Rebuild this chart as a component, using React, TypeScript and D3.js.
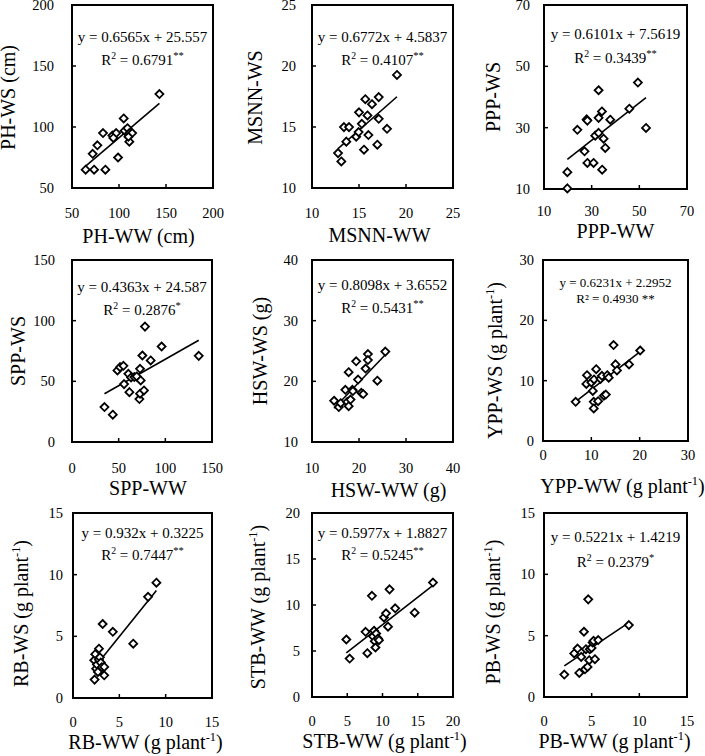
import React from "react";
import * as d3 from "d3";

const FONT = "'Liberation Serif', 'Times New Roman', Times, serif";

// ---------- data ----------
const phWW = [64.5, 73.5, 85.5, 72, 77, 83, 93, 97, 94, 99, 105, 106, 109, 111, 111, 114, 110, 143];
const phWS = [65, 65, 65, 78, 85, 95, 93, 95, 91, 75, 107, 97, 99, 95, 88, 95, 92, 127];

const msnnWW = [12.77, 13.12, 13.4, 13.94, 13.65, 14.7, 14.96, 15.0, 15.3, 15.53, 15.67, 15.9, 16.0, 16.38, 16.95, 17.1, 17.1, 17.98, 19.04];
const msnnWS = [12.86, 12.18, 14.99, 14.99, 13.8, 14.2, 14.58, 16.2, 15.26, 13.14, 17.28, 15.95, 14.34, 16.87, 13.55, 17.45, 15.67, 14.85, 19.27];

const pppWW = [19.8, 19.8, 24.0, 27.0, 27.9, 28.2, 28.2, 30.8, 31.5, 32.9, 32.9, 32.9, 34.3, 34.4, 35.0, 35.7, 37.8, 45.8, 49.4, 52.8];
const pppWS = [15.5, 10.2, 29.3, 22.3, 32.7, 32.3, 18.5, 18.5, 27.4, 42.2, 33.2, 28.3, 35.3, 16.3, 26.4, 23.4, 32.6, 36.2, 44.7, 29.9];

const sppWW = [34.8, 43.7, 48.7, 51.5, 55.1, 55.8, 60.4, 61.5, 63.3, 66.8, 69.3, 72.2, 72.9, 72.9, 73.6, 75.4, 77.1, 78.2, 84.3, 96, 135.8];
const sppWS = [28.8, 22.5, 59, 61.7, 62.8, 47.7, 56.2, 41.1, 53.2, 53.5, 54, 35.4, 39.8, 60.3, 50.7, 71.3, 42.5, 95.1, 67.2, 78.7, 71];

const hswWW = [14.7, 15.7, 16.1, 17.1, 17.5, 17.8, 17.8, 18.2, 18.6, 18.7, 19.4, 19.8, 20.5, 20.9, 21.4, 21.9, 21.9, 23.9, 25.6];
const hswWS = [16.8, 15.76, 16.4, 18.6, 16.6, 15.9, 21.5, 17.0, 18.6, 18.4, 23.3, 20.3, 18.1, 17.9, 22.1, 24.5, 23.5, 20.1, 24.9];

const yppWW = [6.76, 8.97, 9.1, 10.0, 10.3, 10.5, 10.5, 10.55, 11.0, 11.4, 11.9, 12.2, 12.6, 13.0, 13.3, 13.6, 14.6, 15.0, 15.3, 17.8, 20.1];
const yppWS = [6.5, 9.45, 10.9, 9.7, 8.3, 6.5, 5.4, 10.2, 11.9, 6.6, 10.3, 10.8, 7.5, 7.7, 10.9, 10.5, 15.9, 12.7, 11.7, 12.7, 15.0];

const rbWW = [2.33, 2.29, 2.4, 2.5, 2.58, 2.69, 2.8, 2.8, 2.9, 3.0, 3.1, 3.2, 3.37, 3.37, 4.3, 6.5, 8.1, 9.0];
const rbWS = [1.49, 3.06, 3.55, 2.38, 2.71, 2.11, 4.0, 3.1, 3.3, 2.87, 2.5, 6.0, 1.84, 2.52, 5.37, 4.4, 8.2, 9.35];

const stbWW = [4.87, 5.34, 7.6, 7.85, 8.5, 8.65, 8.8, 8.9, 9.0, 9.1, 9.36, 9.5, 10.2, 10.5, 10.78, 11.0, 11.8, 14.56, 17.16];
const stbWS = [6.25, 4.18, 7.09, 4.76, 11.0, 6.6, 7.2, 6.07, 5.38, 6.9, 6.36, 6.18, 8.65, 9.1, 7.64, 11.7, 9.64, 9.16, 12.44];

const pbWW = [2.13, 3.17, 3.52, 3.7, 3.9, 4.19, 4.3, 4.4, 4.57, 4.64, 4.74, 4.8, 4.99, 5.1, 5.34, 5.2, 5.69, 8.9];
const pbWS = [1.83, 3.55, 3.95, 1.96, 3.27, 5.32, 2.26, 3.9, 2.45, 7.96, 3.0, 3.9, 4.0, 4.45, 3.08, 4.58, 4.64, 5.86];

const xValues = [phWW, msnnWW, pppWW, sppWW, hswWW, yppWW, rbWW, stbWW, pbWW];
const yValues = [phWS, msnnWS, pppWS, sppWS, hswWS, yppWS, rbWS, stbWS, pbWS];

const xTitles = ["PH-WW (cm)", "MSNN-WW", "PPP-WW", "SPP-WW", "HSW-WW (g)", "YPP-WW (g plant^-1)", "RB-WW (g plant^-1)", "STB-WW (g plant^-1)", "PB-WW (g plant^-1)"];
const yTitles = ["PH-WS (cm)", "MSNN-WS", "PPP-WS", "SPP-WS", "HSW-WS (g)", "YPP-WS (g plant^-1)", "RB-WS (g plant^-1)", "STB-WW (g plant^-1)", "PB-WS (g plant^-1)"];

const axisDomains = [[50, 200], [10, 25], [10, 70], [0, 150], [10, 40], [0, 30], [0, 15], [0, 20], [0, 15]];
const tickValues = [
  [50, 100, 150, 200],
  [10, 15, 20, 25],
  [10, 30, 50, 70],
  [0, 50, 100, 150],
  [10, 20, 30, 40],
  [0, 10, 20, 30],
  [0, 5, 10, 15],
  [0, 5, 10, 15, 20],
  [0, 5, 10, 15],
];

const slopes = [0.6565, 0.6772, 0.6101, 0.4363, 0.8098, 0.6231, 0.932, 0.5977, 0.5221];
const intercepts = ["25.557", "4.5837", "7.5619", "24.587", "3.6552", "2.2952", "0.3225", "1.8827", "1.4219"];
const r2Values = ["0.6791", "0.4107", "0.3439", "0.2876", "0.5431", "0.4930", "0.7447", "0.5245", "0.2379"];
const significance = ["**", "**", "**", "*", "**", "**", "**", "**", "*"];

// ---------- layout ----------
const layout = [
  { x0: 72, x1: 213, y0: 5, y1: 188, yTitleDx: -57, yTitleDy: 1, xTickDy: 30, xTitleY: 243, xTitleDx: -4, yTickGap: 18, eqY: 42, r2Y: 65, eqSize: 15, alt: false },
  { x0: 312, x1: 453, y0: 5, y1: 188, yTitleDx: -50, yTitleDy: 1, xTickDy: 30, xTitleY: 242, xTitleDx: -3, yTickGap: 16, eqY: 42, r2Y: 65, eqSize: 15, alt: false },
  { x0: 544, x1: 687, y0: 5, y1: 189, yTitleDx: -44, yTitleDy: 0, xTickDy: 27, xTitleY: 238, xTitleDx: 0, yTickGap: 14, eqY: 39, r2Y: 63, eqSize: 15, alt: false },
  { x0: 72, x1: 212, y0: 260, y1: 442, yTitleDx: -47, yTitleDy: 0, xTickDy: 31, xTitleY: 495, xTitleDx: 6, yTickGap: 17, eqY: 292, r2Y: 315, eqSize: 15, alt: false },
  { x0: 312, x1: 453, y0: 260, y1: 442, yTitleDx: -45, yTitleDy: 0, xTickDy: 31, xTitleY: 497, xTitleDx: 6, yTickGap: 14, eqY: 290, r2Y: 313, eqSize: 15, alt: false },
  { x0: 543, x1: 688, y0: 260, y1: 441, yTitleDx: -41, yTitleDy: 10, xTickDy: 19, xTitleY: 493, xTitleDx: 7, yTickGap: 9, eqY: 287, r2Y: 303, eqSize: 13, alt: true },
  { x0: 73, x1: 212, y0: 513, y1: 698, yTitleDx: -45, yTitleDy: 8, xTickDy: 29, xTitleY: 749, xTitleDx: 3, yTickGap: 10, eqY: 538, r2Y: 560, eqSize: 15, alt: false },
  { x0: 312, x1: 453, y0: 513, y1: 697, yTitleDx: -47, yTitleDy: 2, xTickDy: 29, xTitleY: 748, xTitleDx: 2, yTickGap: 12, eqY: 538, r2Y: 560, eqSize: 15, alt: false },
  { x0: 544, x1: 687, y0: 513, y1: 697, yTitleDx: -44, yTitleDy: 7, xTickDy: 29, xTitleY: 748, xTitleDx: -1, yTickGap: 9, eqY: 542, r2Y: 567, eqSize: 15, alt: false },
];

const DIAMOND = "M0,-4L4,0L0,4L-4,0Z";

function Title({ text, size }: { text: string; size: number }) {
  const parts = text.split("^-1");
  if (parts.length === 1) return <>{text}</>;
  return (
    <>
      {parts[0]}
      <tspan fontSize={size * 0.62} dy={-size * 0.4}>-1</tspan>
      <tspan dy={size * 0.4}>{parts[1]}</tspan>
    </>
  );
}

function Panel({ i }: { i: number }) {
  const L = layout[i];
  const dom = axisDomains[i];
  const xs = d3.scaleLinear().domain(dom).range([L.x0, L.x1]);
  const ys = d3.scaleLinear().domain(dom).range([L.y1, L.y0]);
  const xv = xValues[i];
  const yv = yValues[i];
  const b = +intercepts[i];
  const m = slopes[i];
  const [xmin, xmax] = d3.extent(xv) as [number, number];
  const line = d3.line<number>().x((d) => xs(d)).y((d) => ys(m * d + b));
  const ticks = tickValues[i];
  const cx = (L.x0 + L.x1) / 2;
  const cy = (L.y0 + L.y1) / 2;
  const titleSize = 20;
  const eq = `y = ${m}x + ${intercepts[i]}`;
  return (
    <g>
      <rect x={L.x0} y={L.y0} width={L.x1 - L.x0} height={L.y1 - L.y0} fill="white" stroke="black" strokeWidth={2} />
      {ticks.slice(1, -1).map((t) => (
        <g key={"t" + t}>
          <line x1={xs(t)} x2={xs(t)} y1={L.y1} y2={L.y1 - 4} stroke="black" strokeWidth={1.5} />
          <line x1={L.x0} x2={L.x0 + 4} y1={ys(t)} y2={ys(t)} stroke="black" strokeWidth={1.5} />
        </g>
      ))}
      {ticks.map((t) => (
        <text key={"xl" + t} x={xs(t)} y={L.y1 + L.xTickDy} textAnchor="middle" fontSize={14.5} fontFamily={FONT}>
          {t}
        </text>
      ))}
      {ticks.map((t) => (
        <text key={"yl" + t} x={L.x0 - L.yTickGap} y={ys(t)} dy="0.35em" textAnchor="end" fontSize={14.5} fontFamily={FONT}>
          {t}
        </text>
      ))}
      <path d={line([xmin, xmax]) || ""} fill="none" stroke="black" strokeWidth={1.6} />
      {xv.map((x, k) => (
        <path key={k} d={DIAMOND} transform={`translate(${xs(x)},${ys(yv[k])})`} fill="white" stroke="black" strokeWidth={1.8} />
      ))}
      <text x={cx} y={L.eqY} textAnchor="middle" fontSize={L.eqSize} fontFamily={FONT}>
        {eq}
      </text>
      {L.alt ? (
        <text x={cx} y={L.r2Y} textAnchor="middle" fontSize={L.eqSize} fontFamily={FONT}>
          {`R² = ${r2Values[i]} ${significance[i]}`}
        </text>
      ) : (
        <text x={cx} y={L.r2Y} textAnchor="middle" fontSize={L.eqSize} fontFamily={FONT}>
          R<tspan fontSize={L.eqSize * 0.65} dy={-6}>2</tspan>
          <tspan dy={6}>{` = ${r2Values[i]}`}</tspan>
          <tspan fontSize={L.eqSize * 0.7} dy={-6}>{significance[i]}</tspan>
        </text>
      )}
      <text x={cx + L.xTitleDx} y={L.xTitleY} textAnchor="middle" fontSize={titleSize} fontFamily={FONT}>
        <Title text={xTitles[i]} size={titleSize} />
      </text>
      <text transform={`translate(${L.x0 + L.yTitleDx},${cy + L.yTitleDy}) rotate(-90)`} textAnchor="middle" fontSize={titleSize} fontFamily={FONT}>
        <Title text={yTitles[i]} size={titleSize} />
      </text>
    </g>
  );
}

export default function App() {
  return (
    <svg width={705} height={756} style={{ position: "absolute", left: 0, top: 0, display: "block", background: "white" }}>
      <rect width={705} height={756} fill="white" />
      {layout.map((_, i) => (
        <Panel key={i} i={i} />
      ))}
    </svg>
  );
}
